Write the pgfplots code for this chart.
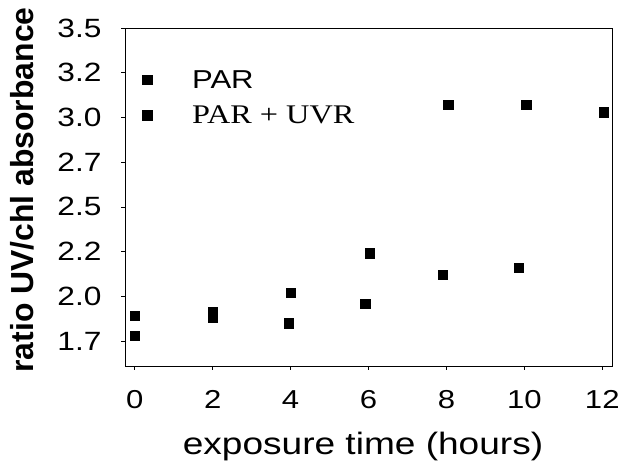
\documentclass[border=0pt]{standalone}
\usepackage{fontspec}
\setmainfont{Liberation Sans}[FakeStretch=1.2]
\newfontfamily\plainsans{Liberation Sans}
\newfontfamily\timesfont{Liberation Serif}[FakeStretch=1.2]
\usepackage{pgfplots}
\pgfplotsset{compat=1.18}

\begin{document}
\begin{tikzpicture}
\useasboundingbox (0,0) rectangle (626bp,462bp);
\begin{axis}[
    at={(125bp,96bp)}, anchor=south west,
    width=487bp, height=338bp, scale only axis,
    xmin=-0.25, xmax=12.25,
    ymin=1.61, ymax=3.5,
    xtick={0,2,4,6,8,10,12},
    ytick={1.75,2,2.25,2.5,2.75,3,3.25,3.5},
    yticklabels={1.7,2.0,2.2,2.5,2.7,3.0,3.2,3.5},
    tick align=outside, tick pos=left,
    major tick length=4bp,
    axis line style={line width=0.8pt},
    tick style={line width=0.6pt, black},
    /pgf/number format/assume math mode=true,
    xticklabel style={font=\fontsize{26}{31}\selectfont, yshift=-17bp},
    yticklabel style={font=\fontsize{26.5}{31}\selectfont, xshift=-16bp},
    legend cell align=left,
    legend style={draw=none, fill=none, at={(rel axis cs:0,1)}, anchor=north west,
        xshift=14.5bp, yshift=-38bp, row sep=12bp,
        font=\fontsize{26}{31}\selectfont,
        /tikz/every odd column/.append style={column sep=38bp}},
    clip=false,
]
% PAR
\addplot[only marks, mark=square*, mark size=4.7bp, black] coordinates {
    (0,1.78) (2,1.88) (3.95,1.85) (5.92,1.96) (7.9,2.12) (9.85,2.16)
};
\addlegendentry{PAR}
% PAR + UVR
\addplot[only marks, mark=square*, mark size=4.7bp, black] coordinates {
    (0,1.89) (2,1.91) (4,2.02) (6.03,2.24) (8.05,3.07) (10.05,3.07) (12.03,3.03)
};
\addlegendentry{\timesfont\fontsize{27}{32}\selectfont PAR + UVR}
\end{axis}
\node[rotate=90, font=\plainsans\bfseries\fontsize{32}{38}\selectfont] at (22bp,272bp) {ratio UV/chl absorbance};
\node[anchor=base, font=\fontsize{31}{37}\selectfont] at (363bp,8bp) {exposure time (hours)};
\end{tikzpicture}
\end{document}
